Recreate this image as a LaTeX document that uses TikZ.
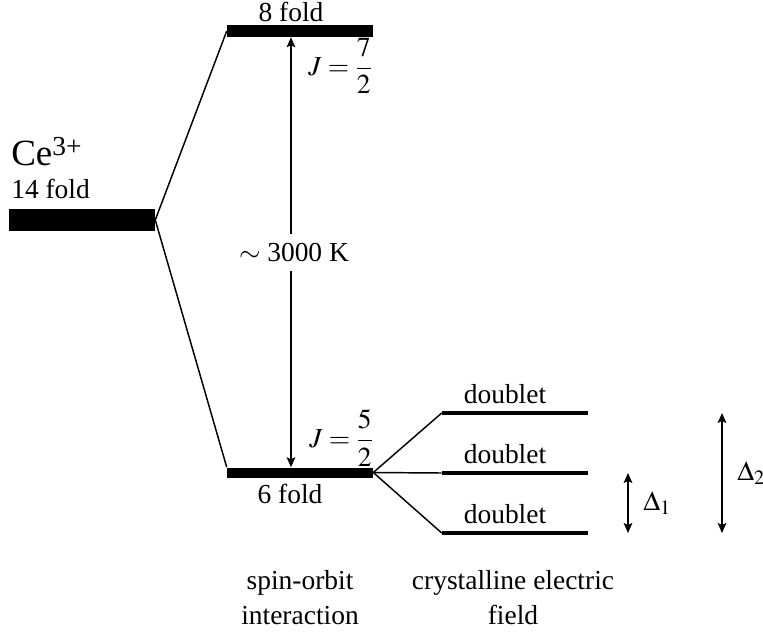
\documentclass[tikz,border=0pt]{standalone}
\usepackage{mathptmx}
\usepackage{fontspec}
\setmainfont{Liberation Serif}
\usetikzlibrary{arrows.meta,calc}
\begin{document}
\begin{tikzpicture}[x=0.75pt,y=-0.75pt,
  every node/.style={font=\fontsize{20.6}{26}\selectfont, inner sep=0pt},
  bar/.style={fill=black, draw=none, minimum width=109.5pt, inner sep=0pt},
  thinline/.style={line width=1.1pt},
  dbl/.style={line width=1.1pt, {Stealth[length=7.5pt,width=6.5pt,inset=1.5pt]}-{Stealth[length=7.5pt,width=6.5pt,inset=1.5pt]}},
  txt/.style={anchor=base}]
\useasboundingbox (0,0) rectangle (763,632);
% levels
\node[bar, minimum height=16.5pt] (ce) at (82,220) {};
\node[bar, minimum height=9pt] (e8) at (300,31) {};
\node[bar, minimum height=7.5pt] (e6) at (300,472.5) {};
\foreach \n/\y in {1/413,2/473,3/533}
  \node[bar, minimum height=2.4pt] (d\n) at (515,\y) {};
% connectors
\draw[thinline] (ce.east) -- (e8.west);
\draw[thinline] (ce.east) -- (e6.north west);
\foreach \n in {1,2,3} \draw[thinline] (e6.east) -- (d\n.west);
% labels
\node[anchor=base west, font=\fontsize{27.75}{30}\selectfont] (cel) at (11,165)
  {Ce\raisebox{7pt}{\fontsize{20.6}{24}\selectfont 3+}};
\node[anchor=base west] (f14) at (11,198) {14 fold};
\node[txt] (f8) at (291,21) {8 fold};
\node[txt] (f6) at (290,503) {6 fold};
\node[anchor=west] (j7) at (308,66) {$J=\displaystyle\frac{7}{2}$};
\node[anchor=west] (j5) at (309,438) {$J=\displaystyle\frac{5}{2}$};
\foreach \n/\y in {1/403,2/463,3/523}
  \node[txt] (dl\n) at (505,\y) {doublet};
% main gap arrow
\coordinate (ax) at (291,0);
\draw[dbl] (e6.north -| ax) -- node[fill=white, inner xsep=2pt, inner ysep=7pt, xshift=2.25pt] (gap) {$\sim$ 3000 K} (e8.south -| ax);
% crystal field arrows
\coordinate (x1) at (628,0);
\coordinate (x2) at (722,0);
\draw[dbl] (d2.center -| x1) -- node[anchor=west, xshift=11pt] (del1) {$\Delta_1$} (d3.center -| x1);
\draw[dbl] (d1.center -| x2) -- node[anchor=west, xshift=11pt] (del2) {$\Delta_2$} (d3.center -| x2);
% bottom captions
\node[anchor=north, align=center] (so) at (300,570) {spin-orbit\\interaction};
\node[anchor=north, align=center] (cef) at (513,570) {crystalline electric\\field};
\end{tikzpicture}
\end{document}
